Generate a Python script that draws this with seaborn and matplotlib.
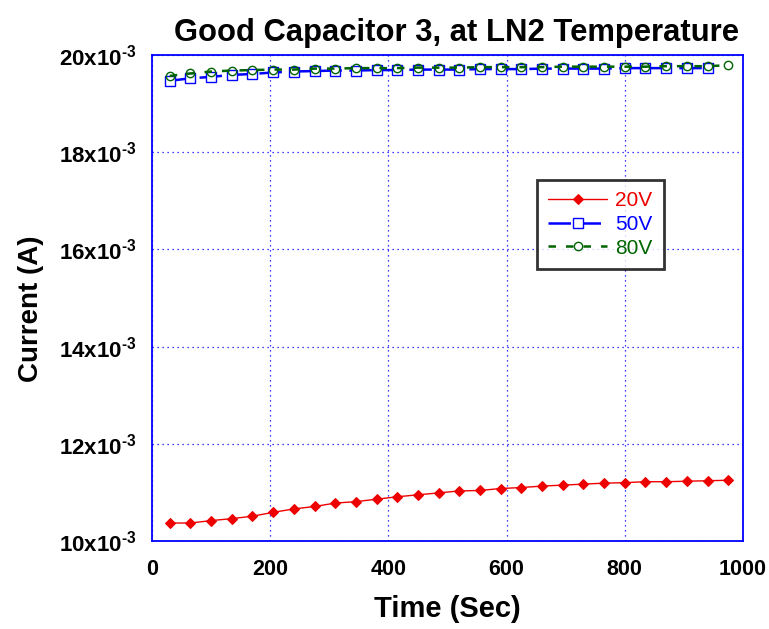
import matplotlib
matplotlib.use("Agg")
import matplotlib.pyplot as plt
import matplotlib.ticker as mticker
import seaborn as sns
import numpy as np
import pandas as pd

time_20 = [30, 65, 100, 135, 170, 205, 240, 275, 310, 345, 380, 415, 450, 485,
           520, 555, 590, 625, 660, 695, 730, 765, 800, 835, 870, 905, 940, 975]
current_20V = [10.37, 10.37, 10.42, 10.46, 10.51, 10.59, 10.66, 10.71, 10.78, 10.81,
               10.86, 10.91, 10.95, 10.99, 11.03, 11.04, 11.08, 11.10, 11.13, 11.15,
               11.17, 11.19, 11.20, 11.22, 11.22, 11.23, 11.24, 11.25]
time_50 = time_20[:27]
current_50V = [19.47, 19.52, 19.55, 19.59, 19.61, 19.64, 19.66, 19.67, 19.68, 19.68,
               19.69, 19.69, 19.70, 19.70, 19.70, 19.71, 19.71, 19.71, 19.72, 19.72,
               19.72, 19.72, 19.73, 19.73, 19.73, 19.73, 19.73]
time_80 = time_20
current_80V = [19.57, 19.62, 19.66, 19.68, 19.69, 19.70, 19.70, 19.72, 19.72, 19.73,
               19.73, 19.73, 19.74, 19.74, 19.74, 19.75, 19.75, 19.75, 19.75, 19.76,
               19.76, 19.76, 19.76, 19.76, 19.77, 19.77, 19.77, 19.79]

x_ticks = [0, 200, 400, 600, 800, 1000]
y_ticks_mA = [10, 12, 14, 16, 18, 20]

sns.set_style("white")
font = "Liberation Sans"
plt.rcParams["font.family"] = [font, "DejaVu Sans"]
plt.rcParams["mathtext.fontset"] = "custom"
plt.rcParams["mathtext.rm"] = f"{font}:bold"
plt.rcParams["mathtext.default"] = "rm"
plt.rcParams["text.color"] = "black"
plt.rcParams["axes.labelcolor"] = "black"

W, H = 769, 629
L, R, T, B = 152, 743, 55, 541
fig = plt.figure(figsize=(W / 100, H / 100), dpi=100)
ax = fig.add_axes([L / W, 1 - B / H, (R - L) / W, (B - T) / H])

red = "#ee0000"
blue = "#0000ff"
green = "#006400"

df20 = pd.DataFrame({"t": time_20, "I": np.array(current_20V) * 1e-3})
df50 = pd.DataFrame({"t": time_50, "I": np.array(current_50V) * 1e-3})
df80 = pd.DataFrame({"t": time_80, "I": np.array(current_80V) * 1e-3})

sns.lineplot(data=df20, x="t", y="I", ax=ax, color=red, lw=1.0, marker="D",
             markersize=5.5, markerfacecolor=red, markeredgecolor=red, label="20V")
sns.lineplot(data=df50, x="t", y="I", ax=ax, color=blue, lw=1.8, marker="s",
             markersize=7, markerfacecolor="white", markeredgecolor=blue,
             markeredgewidth=1.0, label="50V")
ax.lines[-1].set_dashes([9, 3])
sns.lineplot(data=df80, x="t", y="I", ax=ax, color=green, lw=1.8, marker="o",
             markersize=6, markerfacecolor="none", markeredgecolor=green,
             markeredgewidth=1.0, label="80V")
ax.lines[-1].set_dashes([3, 4])

ax.set_xlim(0, 1000)
ax.set_ylim(10e-3, 20e-3)
ax.set_xticks(x_ticks)
ax.set_yticks([v * 1e-3 for v in y_ticks_mA])
ax.xaxis.set_major_formatter(mticker.FuncFormatter(lambda v, p: f"{v:.0f}"))
ax.yaxis.set_major_formatter(mticker.FuncFormatter(
    lambda v, p: f"{v*1e3:.0f}x10" + r"$^{\text{-3}}$"))
ax.tick_params(axis="both", direction="in", length=4, color=blue, width=1,
               labelcolor="black")
ax.tick_params(axis="x", pad=13, labelsize=15.5)
ax.tick_params(axis="y", pad=11, labelsize=16)
for lab in ax.get_xticklabels() + ax.get_yticklabels():
    lab.set_fontweight("bold")

ax.grid(True, color=blue, linestyle=(0, (1, 3)), linewidth=0.9)
for s in ax.spines.values():
    s.set_color(blue)
    s.set_linewidth(1.3)

ax.set_xlabel("Time (Sec)", fontsize=21, fontweight="bold", labelpad=11)
ax.set_ylabel("Current (A)", fontsize=20, fontweight="bold")
ax.yaxis.set_label_coords((44 - L) / (R - L), 0.478)
ax.set_title("Good Capacitor 3, at LN2 Temperature", fontsize=22.3,
             fontweight="bold", pad=10, x=(457 - L) / (R - L))

leg = ax.legend(loc="upper left",
                bbox_to_anchor=((537 - L) / (R - L), 1 - (180 - T) / (B - T)),
                frameon=True, fancybox=False, fontsize=15, handlelength=2.8,
                borderpad=0.55, labelspacing=0.22, handletextpad=0.4,
                borderaxespad=0)
leg.get_frame().set_edgecolor("black")
leg.get_frame().set_linewidth(2)
for txt, c in zip(leg.get_texts(), [red, blue, green]):
    txt.set_color(c)

fig.savefig("out.png", dpi=100)
